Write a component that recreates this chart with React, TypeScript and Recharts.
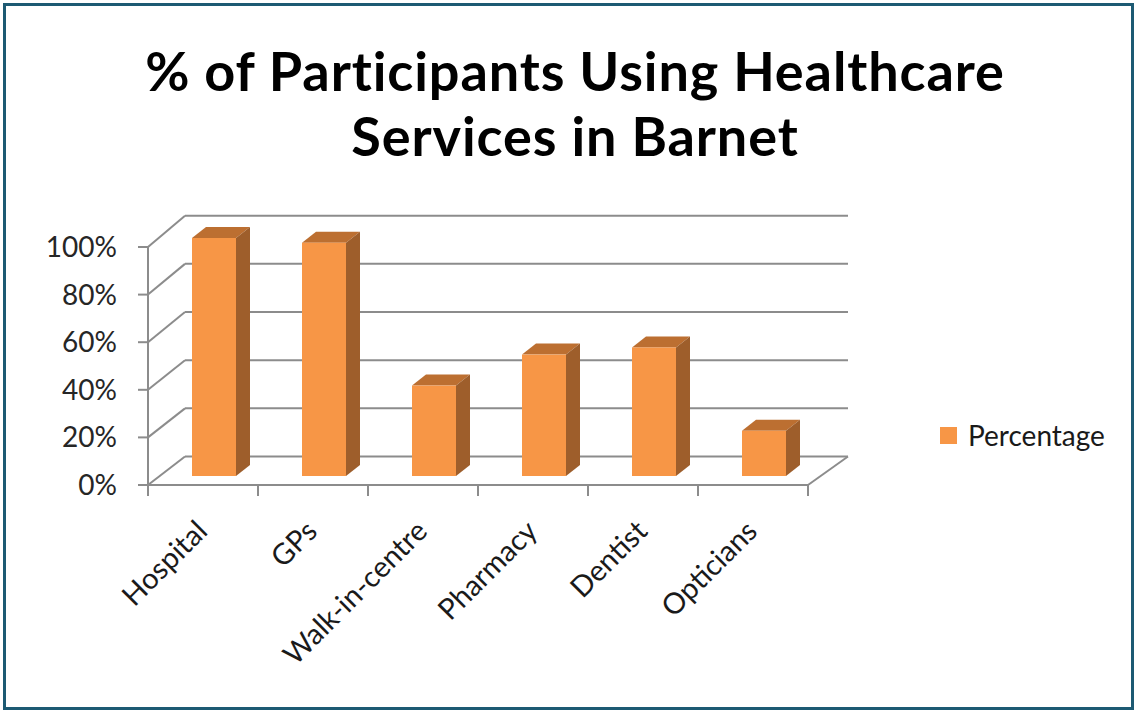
import React from 'react';
import { ComposedChart, Bar, XAxis, YAxis, CartesianGrid, Legend } from 'recharts';

// Share of participants who used each service (%)
const categories = ['Hospital', 'GPs', 'Walk-in-centre', 'Pharmacy', 'Dentist', 'Opticians'];
const percentages = [100, 98, 38, 51, 54, 19];
const yTicks = [0, 20, 40, 60, 80, 100];
const seriesName = 'Percentage';
const titleLines = ['% of Participants Using Healthcare', 'Services in Barnet'];

const data = categories.map((name, i) => ({ name, value: percentages[i] }));

// Chart geometry (front plane of the 3-D box)
const W = 1134;
const H = 711;
const PLOT = { left: 148, right: 808, top: 247, bottom: 485 };
const Y_AXIS_W = 60;
const X_AXIS_H = 30;
const BAND = (PLOT.right - PLOT.left) / categories.length;

// Back-wall and bar depth offsets
const WALL_DX_LEFT = 37;
const WALL_DX_RIGHT = 40;
const BAR_SHIFT = { dx: 11, dy: -9 };
const BAR_DEPTH = { dx: 14, dy: -11 };

const FRONT = '#F79646';
const SIDE = '#9E5E2B';
const TOP = '#BC6F31';
const AXIS = '#8C8C8C';
const LABEL_FONT = 'Lato, "Open Sans", sans-serif';

function Bar3D(props: any) {
  const { x, y, width, height } = props;
  if (width == null || height == null || isNaN(x) || isNaN(y)) return null;
  const fx = x + BAR_SHIFT.dx;
  const fy = y + BAR_SHIFT.dy;
  const { dx, dy } = BAR_DEPTH;
  return (
    <g>
      <polygon
        points={`${fx},${fy} ${fx + dx},${fy + dy} ${fx + width + dx},${fy + dy} ${fx + width},${fy}`}
        fill={TOP}
      />
      <polygon
        points={`${fx + width},${fy} ${fx + width + dx},${fy + dy} ${fx + width + dx},${fy + height + dy} ${fx + width},${fy + height}`}
        fill={SIDE}
      />
      <rect x={fx} y={fy} width={width} height={height} fill={FRONT} />
    </g>
  );
}

// Each horizontal grid line becomes a left-wall diagonal plus a back-wall line
function WallLine(p: any) {
  const { x1, y1, x2 } = p;
  const t = (PLOT.bottom - y1) / (PLOT.bottom - PLOT.top);
  const dy = -28.5 - 2.8 * t;
  const isFloor = Math.abs(y1 - PLOT.bottom) < 0.5;
  const common = { stroke: AXIS, strokeWidth: 2, fill: 'none' };
  return (
    <g key={`wall-${p.index}-${y1}`}>
      <line x1={x1} y1={y1} x2={x1 + WALL_DX_LEFT} y2={y1 + dy} {...common} />
      <line x1={x1 + WALL_DX_LEFT} y1={y1 + dy} x2={x2 + WALL_DX_RIGHT} y2={y1 + dy} {...common} />
      {isFloor && <line x1={x2} y1={y1} x2={x2 + WALL_DX_RIGHT} y2={y1 + dy} {...common} />}
    </g>
  );
}

function YTick(props: any) {
  const { y, payload } = props;
  return (
    <text
      x={PLOT.left - 31}
      y={y}
      dy={10}
      textAnchor="end"
      fontFamily={LABEL_FONT}
      fontSize={28}
      fill="#262626"
    >
      {`${payload.value}%`}
    </text>
  );
}

function XTick(props: any) {
  const { payload, index } = props;
  const cx = payload.coordinate;
  const left = cx - BAND / 2;
  const right = cx + BAND / 2;
  const lx = cx + 6;
  const ly = PLOT.bottom + 48;
  return (
    <g>
      <line x1={left} y1={PLOT.bottom} x2={left} y2={PLOT.bottom + 11} stroke={AXIS} strokeWidth={2} />
      {index === categories.length - 1 && (
        <line x1={right} y1={PLOT.bottom} x2={right} y2={PLOT.bottom + 11} stroke={AXIS} strokeWidth={2} />
      )}
      <text
        x={lx}
        y={ly}
        transform={`rotate(-45, ${lx}, ${ly})`}
        textAnchor="end"
        fontFamily={LABEL_FONT}
        fontSize={29}
        fill="#1a1a1a"
      >
        {payload.value}
      </text>
    </g>
  );
}

function LegendContent(props: any) {
  const item = (props.payload && props.payload[0]) || { value: seriesName };
  return (
    <div style={{ display: 'flex', alignItems: 'center', fontFamily: LABEL_FONT }}>
      <span style={{ display: 'inline-block', width: 17, height: 17, background: FRONT, marginRight: 11 }} />
      <span style={{ fontSize: 28, lineHeight: '34px', color: '#1a1a1a' }}>{item.value}</span>
    </div>
  );
}

export default function App() {
  return (
    <div style={{ position: 'absolute', left: 0, top: 0, width: W, height: H, background: '#fff' }}>
      <div
        style={{
          position: 'absolute',
          left: 0,
          top: 38,
          width: 1150,
          textAlign: 'center',
          fontFamily: LABEL_FONT,
          fontWeight: 700,
          fontSize: 54,
          letterSpacing: '0.9px',
          lineHeight: '65px',
          color: '#000',
        }}
      >
        {titleLines.map((l) => (
          <div key={l}>{l}</div>
        ))}
      </div>
      <ComposedChart
        width={W}
        height={H}
        data={data}
        barCategoryGap="30%"
        margin={{
          top: PLOT.top,
          bottom: H - PLOT.bottom - X_AXIS_H,
          left: PLOT.left - Y_AXIS_W,
          right: W - PLOT.right,
        }}
      >
        <CartesianGrid vertical={false} horizontal={WallLine} />
        <XAxis
          dataKey="name"
          height={X_AXIS_H}
          interval={0}
          tickLine={false}
          axisLine={{ stroke: AXIS, strokeWidth: 2 }}
          tick={XTick}
        />
        <YAxis
          width={Y_AXIS_W}
          domain={[0, 100]}
          ticks={yTicks}
          tickSize={10}
          axisLine={{ stroke: AXIS, strokeWidth: 2 }}
          tickLine={{ stroke: AXIS, strokeWidth: 2 }}
          tick={YTick}
        />
        <Bar dataKey="value" name={seriesName} shape={(p: any) => <Bar3D {...p} />} isAnimationActive={false} />
        <Legend
          layout="vertical"
          align="center"
          verticalAlign="middle"
          wrapperStyle={{ left: 940, top: 418, width: 190 }}
          content={LegendContent}
        />
      </ComposedChart>
      <div
        style={{
          position: 'absolute',
          left: 3,
          top: 3,
          width: 1131,
          height: 707,
          boxSizing: 'border-box',
          border: '3px solid #1D5A73',
          pointerEvents: 'none',
        }}
      />
    </div>
  );
}
